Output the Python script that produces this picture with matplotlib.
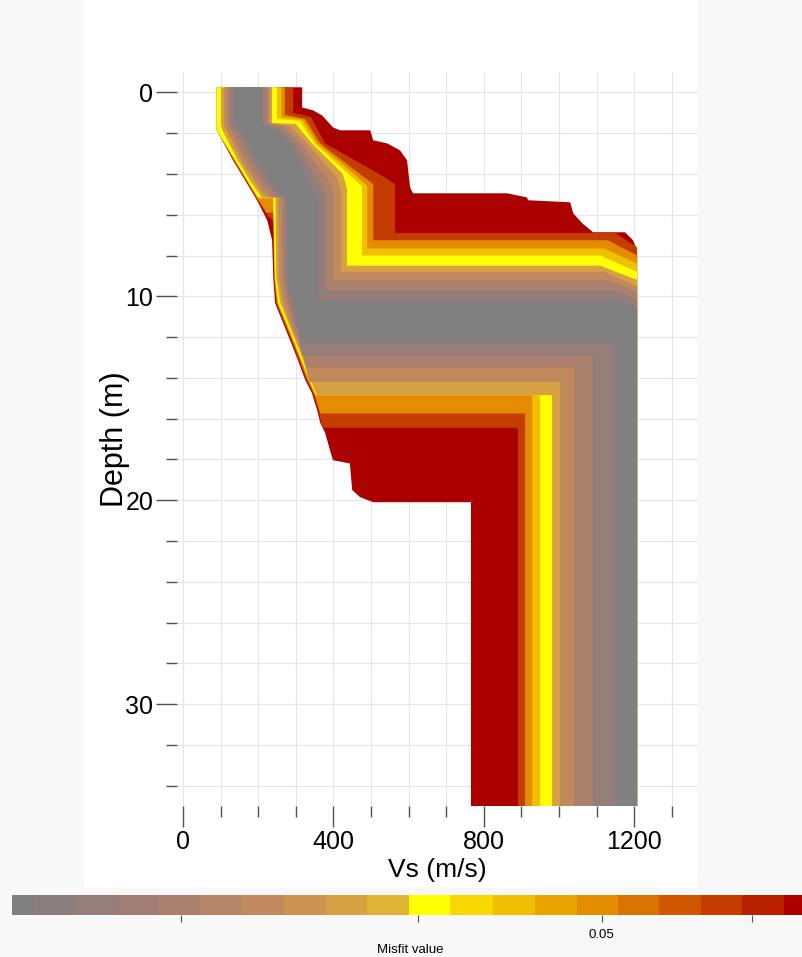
import matplotlib
matplotlib.use("Agg")
import matplotlib.pyplot as plt
import numpy as np
from matplotlib.patches import Rectangle

plt.rcParams['font.family'] = ['Liberation Sans', 'DejaVu Sans']

# misfit palette (grey = best, dark red = worst)
level_colors = ['#808080', '#8a7e7e', '#957d79', '#a07e73', '#ab806c', '#b68466',
                '#c08a5c', '#cc9450', '#d6a043', '#e0b236', '#ffff00', '#f8d800',
                '#f0c000', '#eaa400', '#e48c00', '#da7200', '#d05600', '#c43c00',
                '#b82000', '#aa0000']
# colour-scale cell edges (misfit values, log axis)
misfit_bounds = [0.02445, 0.0251, 0.0264, 0.0278, 0.0292, 0.0307, 0.0323, 0.0340,
                 0.0358, 0.0376, 0.0396, 0.0416, 0.0438, 0.0461, 0.0485, 0.0510,
                 0.0536, 0.0564, 0.0593, 0.0624, 0.0643]
misfit_ticks = [0.03, 0.04, 0.05, 0.06]
misfit_labels = ['', '', '0.05', '']

# envelope of the Vs profiles for each misfit level: (Vs, depth) points,
# left edge top->bottom and right edge top->bottom
left_19 = [(90, -0.25), (90, 1.86), (133, 3.33), (170, 4.46), (197, 5.3), (224, 6.27),
           (237, 7.25), (240, 9.07), (245, 10.34), (277, 11.8), (303, 13.0), (325, 14.1),
           (343, 14.75), (357, 15.6), (365, 16.2), (378, 16.7), (391, 17.55), (399, 18.04),
           (444, 18.2), (450, 19.5), (471, 19.85), (506, 20.1), (766, 20.1), (766, 35)]
right_19 = [(317, -0.25), (317, 0.74), (346, 0.88), (370, 1.13), (399, 1.72), (418, 1.86),
            (498, 1.86), (506, 2.35), (543, 2.5), (577, 2.84), (596, 3.33), (604, 4.66),
            (612, 4.95), (862, 4.95), (915, 5.15), (918, 5.29), (1030, 5.39), (1038, 5.93),
            (1062, 6.42), (1091, 6.86), (1176, 6.86), (1197, 7.25), (1208, 7.75), (1208, 35)]

left_17 = [(90, -0.25), (90, 1.86), (135, 3.33), (172, 4.46), (199, 5.3), (226, 6.1),
           (240, 6.3), (242, 9.07), (248, 10.34), (280, 11.8), (306, 13.0), (328, 14.1),
           (346, 14.75), (360, 15.6), (368, 16.2), (372, 16.45), (891, 16.45), (891, 35)]
right_17 = [(293, -0.25), (293, 1.0), (340, 1.2), (378, 2.5), (540, 4.2), (564, 4.5),
            (564, 6.9), (1150, 6.9), (1208, 7.6), (1208, 35)]

left_14 = [(90, -0.25), (90, 1.86), (137, 3.33), (174, 4.46), (200, 5.25), (222, 5.9),
           (240, 5.9), (243, 9.07), (250, 10.34), (283, 11.8), (309, 13.0), (331, 14.1),
           (349, 14.75), (363, 15.6), (365, 15.75), (910, 15.75), (910, 35)]
right_14 = [(271, -0.25), (271, 1.1), (325, 1.3), (365, 2.5), (470, 4.0), (506, 4.5),
            (506, 7.25), (1130, 7.25), (1208, 8.0), (1208, 35)]

left_12 = [(90, -0.25), (90, 1.86), (138, 3.33), (175, 4.46), (199, 5.2), (240, 5.2),
           (244, 9.07), (252, 10.34), (285, 11.8), (311, 13.0), (334, 14.1), (352, 14.85),
           (929, 14.85), (929, 35)]
right_12 = [(262, -0.25), (262, 1.2), (318, 1.35), (357, 2.5), (455, 4.0), (490, 4.6),
            (490, 7.65), (1120, 7.65), (1208, 8.4), (1208, 35)]

left_10 = [(90, -0.25), (90, 1.86), (139, 3.33), (176, 4.46), (200, 5.15), (240, 5.15),
           (245, 9.07), (254, 10.34), (287, 11.8), (313, 13.0), (336, 14.1), (354, 14.85),
           (950, 14.85), (950, 35)]
right_10 = [(250, -0.25), (250, 1.3), (310, 1.4), (350, 2.5), (440, 4.0), (476, 4.6),
            (476, 8.0), (1110, 8.0), (1208, 8.8), (1208, 35)]

left_8 = [(101, -0.25), (101, 1.6), (106, 1.9), (146, 3.33), (183, 4.46), (210, 5.15),
          (246, 5.15), (248, 9.07), (259, 10.34), (291, 11.8), (317, 13.0), (339, 14.1),
          (356, 14.85), (982, 14.85), (982, 35)]
right_8 = [(237, -0.25), (237, 1.5), (300, 1.55), (343, 2.5), (425, 4.0), (436, 4.7),
           (436, 8.5), (1110, 8.5), (1208, 9.2), (1208, 35)]

left_6 = [(109, -0.25), (109, 1.6), (118, 1.9), (155, 3.33), (193, 4.46), (222, 5.15),
          (253, 5.15), (255, 9.1), (266, 10.34), (294, 11.8), (320, 13.0), (336, 14.2),
          (1003, 14.2), (1003, 35)]
right_6 = [(232, -0.25), (232, 1.5), (285, 1.65), (330, 2.5), (410, 4.2), (420, 4.9),
           (420, 8.8), (1120, 8.8), (1208, 9.5), (1208, 35)]

left_4 = [(117, -0.25), (117, 1.6), (130, 1.95), (165, 3.33), (205, 4.46), (238, 5.15),
          (261, 5.15), (263, 9.2), (276, 10.34), (300, 11.8), (322, 13.0), (328, 13.5),
          (1040, 13.5), (1040, 35)]
right_4 = [(226, -0.25), (226, 1.5), (272, 1.7), (315, 2.5), (390, 4.4), (400, 5.0),
           (400, 9.2), (1130, 9.2), (1208, 9.8), (1208, 35)]

left_2 = [(125, -0.25), (125, 1.6), (145, 2.0), (180, 3.33), (220, 4.46), (250, 5.1),
          (269, 5.1), (271, 9.3), (283, 10.34), (306, 11.8), (318, 12.9), (1090, 12.9),
          (1090, 35)]
right_2 = [(218, -0.25), (218, 1.5), (262, 1.8), (300, 2.5), (370, 4.6), (380, 5.1),
           (380, 9.7), (1150, 9.7), (1208, 10.2), (1208, 35)]

left_0 = [(136, -0.25), (136, 1.6), (160, 2.0), (195, 3.33), (235, 4.46), (262, 5.1),
          (277, 5.1), (279, 9.4), (292, 10.34), (310, 11.8), (314, 12.3), (1150, 12.3),
          (1150, 35)]
right_0 = [(210, -0.25), (210, 1.5), (250, 1.9), (285, 2.5), (350, 4.8), (362, 5.2),
           (362, 10.2), (1160, 10.2), (1208, 10.6), (1208, 35)]

envelopes = [(19, left_19, right_19), (17, left_17, right_17), (14, left_14, right_14),
             (12, left_12, right_12), (10, left_10, right_10), (8, left_8, right_8),
             (6, left_6, right_6), (4, left_4, right_4), (2, left_2, right_2),
             (0, left_0, right_0)]

fig = plt.figure(figsize=(8.02, 9.57), dpi=100, facecolor='#f8f8f8')
fig.patches.append(Rectangle((84 / 802, 1 - 888 / 957), (698 - 84) / 802, 888 / 957,
                             transform=fig.transFigure, facecolor='white',
                             edgecolor='none', zorder=-10))

ax = fig.add_axes([177 / 802, 1 - 806 / 957, 521 / 802, 734 / 957])
ax.set_facecolor('white')

# worst models first, best (grey) on top
for lvl, left, right in envelopes:
    pts = np.array(left + right[::-1])
    ax.fill(pts[:, 0], pts[:, 1], color=level_colors[lvl], lw=0, zorder=2)

ax.set_xlim(-16, 1370)
ax.set_ylim(35, -1)
ax.set_xticks([0, 400, 800, 1200])
ax.set_xticks(np.arange(100, 1400, 100), minor=True)
ax.set_yticks([0, 10, 20, 30])
ax.set_yticks(np.arange(2, 36, 2), minor=True)
ax.grid(True, which='both', color='#e6e6e6', lw=0.8, zorder=0)
ax.set_axisbelow(True)
for s in ax.spines.values():
    s.set_visible(False)
ax.tick_params(which='major', direction='out', length=15, width=1, color='#505050',
               labelsize=18, pad=2)
ax.tick_params(which='minor', direction='out', length=8, width=1, color='#505050')
ax.set_xlabel('Vs (m/s)', fontsize=19, labelpad=3)
ax.set_ylabel('Depth (m)', fontsize=22, labelpad=-3)

# misfit colour scale
cax = fig.add_axes([12 / 802, 42 / 957, 797 / 802, 20 / 957])
for i, c in enumerate(level_colors):
    cax.axvspan(misfit_bounds[i], misfit_bounds[i + 1], color=c, lw=0)
cax.set_xscale('log')
cax.set_xlim(misfit_bounds[0], misfit_bounds[-1])
cax.set_yticks([])
cax.xaxis.set_minor_locator(matplotlib.ticker.NullLocator())
cax.set_xticks(misfit_ticks)
cax.set_xticklabels(misfit_labels)
for s in cax.spines.values():
    s.set_visible(False)
cax.tick_params(axis='x', direction='out', length=5, width=0.8, color='#505050',
                labelsize=9.5, pad=5)
cax.set_xlabel('Misfit value', fontsize=9.5, labelpad=2)

fig.savefig('out.png', dpi=100, facecolor=fig.get_facecolor())
